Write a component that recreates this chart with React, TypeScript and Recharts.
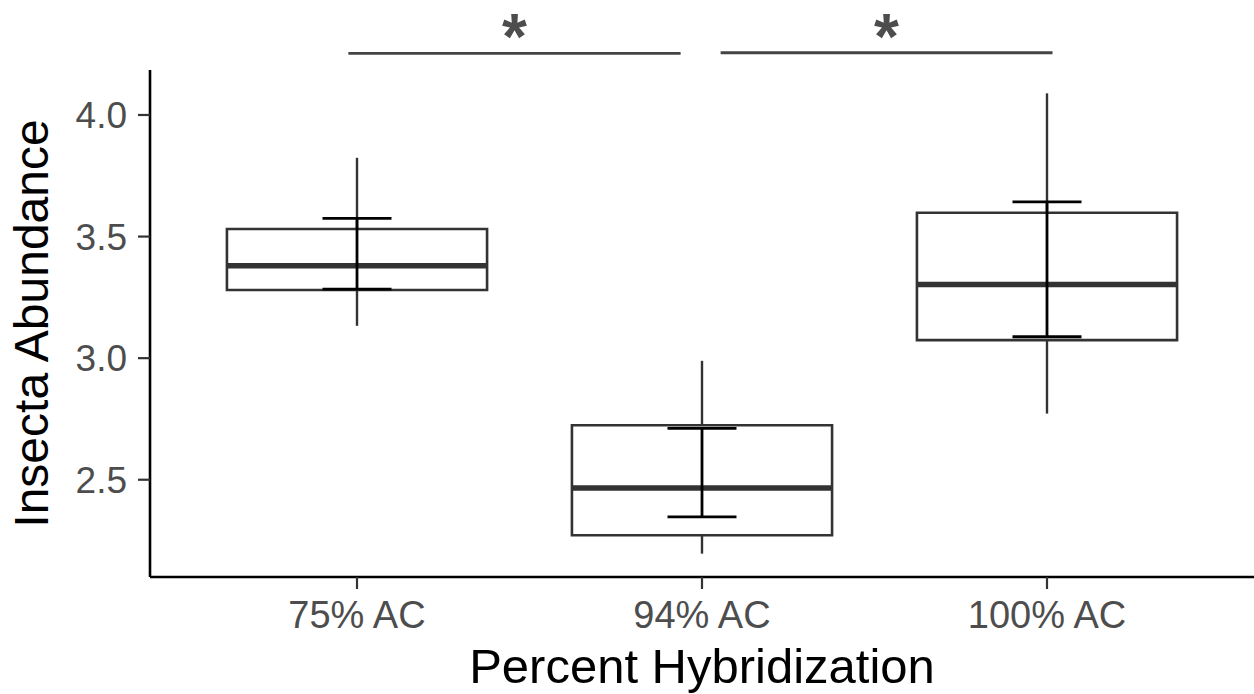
import React from 'react';
import {
  ComposedChart,
  XAxis,
  YAxis,
  Scatter,
  ReferenceArea,
  ReferenceLine,
  ReferenceDot,
} from 'recharts';

// group labels and their positions on the discrete axis
const categories = ['75% AC', '94% AC', '100% AC'];
const positions = [1, 2, 3];

// box plot summaries
const boxLower = [3.28, 2.272, 3.074];
const boxUpper = [3.531, 2.724, 3.598];
const medians = [3.38, 2.466, 3.303];
const whiskerMin = [3.133, 2.196, 2.772];
const whiskerMax = [3.824, 2.989, 4.089];

// mean +/- error bars
const errLower = [3.284, 2.347, 3.088];
const errUpper = [3.575, 2.711, 3.643];

// significance brackets
const sigStart = [0.975, 2.054];
const sigEnd = [1.938, 3.016];
const sigY = [4.253, 4.256];
const sigLabelY = [4.325, 4.325];
const sigLabels = ['*', '*'];

const yTicks = [2.5, 3.0, 3.5, 4.0];

const FONT = '"Liberation Sans", Arial, Helvetica, sans-serif';
const BOX_HALF = 0.377;
const CAP_HALF = 0.1;

const rows = positions.map((p, i) => ({ pos: p, median: medians[i] }));

const YTitle = (props: any) => {
  const vb = props.viewBox || { x: 0, y: 70, width: 150, height: 507 };
  const x = vb.x + 48;
  const y = vb.y + vb.height / 2;
  return (
    <text
      x={x}
      y={y}
      transform={`rotate(-90 ${x} ${y})`}
      textAnchor="middle"
      fontSize={48}
      fontFamily={FONT}
      fill="#000"
    >
      Insecta Abundance
    </text>
  );
};

const App: React.FC = () => {
  return (
    <div style={{ width: 1254, height: 694, background: '#fff' }}>
      <style>{'body{margin:0;}'}</style>
      <ComposedChart
        width={1254}
        height={694}
        data={rows}
        margin={{ top: 70, right: 0, bottom: 0, left: 0 }}
        style={{ fontFamily: FONT }}
      >
        <XAxis
          dataKey="pos"
          type="number"
          domain={[0.4, 3.6]}
          ticks={positions}
          allowDataOverflow
          tickFormatter={(v: number) => categories[v - 1]}
          height={117}
          tickSize={12}
          tickMargin={12}
          tick={{ fill: '#4d4d4d', fontSize: 38, fontFamily: FONT }}
          tickLine={{ stroke: '#333', strokeWidth: 2.2 }}
          axisLine={{ stroke: '#000', strokeWidth: 2.6 }}
          label={{
            value: 'Percent Hybridization',
            position: 'insideBottom',
            offset: 11,
            fontSize: 49,
            fill: '#000',
            fontFamily: FONT,
          }}
        />
        <YAxis
          type="number"
          domain={[2.1, 4.185]}
          ticks={yTicks}
          allowDataOverflow
          width={150}
          tickFormatter={(v: number) => v.toFixed(1)}
          tickSize={12}
          tickMargin={11}
          tick={{ fill: '#4d4d4d', fontSize: 37, fontFamily: FONT }}
          tickLine={{ stroke: '#333', strokeWidth: 2.2 }}
          axisLine={{ stroke: '#000', strokeWidth: 2.6 }}
          label={{ content: YTitle }}
        />

        {positions.map((p, i) => (
          <ReferenceArea
            key={`box-${i}`}
            x1={p - BOX_HALF}
            x2={p + BOX_HALF}
            y1={boxLower[i]}
            y2={boxUpper[i]}
            fill="#fff"
            fillOpacity={1}
            stroke="#333"
            strokeWidth={2.6}
          />
        ))}
        {positions.map((p, i) => (
          <ReferenceLine
            key={`wtop-${i}`}
            segment={[{ x: p, y: boxUpper[i] }, { x: p, y: whiskerMax[i] }]}
            stroke="#333"
            strokeWidth={2.4}
          />
        ))}
        {positions.map((p, i) => (
          <ReferenceLine
            key={`wbot-${i}`}
            segment={[{ x: p, y: whiskerMin[i] }, { x: p, y: boxLower[i] }]}
            stroke="#333"
            strokeWidth={2.4}
          />
        ))}
        {positions.map((p, i) => (
          <ReferenceLine
            key={`med-${i}`}
            segment={[{ x: p - BOX_HALF, y: medians[i] }, { x: p + BOX_HALF, y: medians[i] }]}
            stroke="#333"
            strokeWidth={5.5}
          />
        ))}
        {positions.map((p, i) => (
          <ReferenceLine
            key={`err-${i}`}
            segment={[{ x: p, y: errLower[i] }, { x: p, y: errUpper[i] }]}
            stroke="#000"
            strokeWidth={2.8}
          />
        ))}
        {positions.map((p, i) => (
          <ReferenceLine
            key={`capu-${i}`}
            segment={[{ x: p - CAP_HALF, y: errUpper[i] }, { x: p + CAP_HALF, y: errUpper[i] }]}
            stroke="#000"
            strokeWidth={2.8}
          />
        ))}
        {positions.map((p, i) => (
          <ReferenceLine
            key={`capl-${i}`}
            segment={[{ x: p - CAP_HALF, y: errLower[i] }, { x: p + CAP_HALF, y: errLower[i] }]}
            stroke="#000"
            strokeWidth={2.8}
          />
        ))}

        {sigStart.map((s, i) => (
          <ReferenceLine
            key={`sig-${i}`}
            segment={[{ x: s, y: sigY[i] }, { x: sigEnd[i], y: sigY[i] }]}
            stroke="#444"
            strokeWidth={2.8}
            ifOverflow="visible"
          />
        ))}
        {sigStart.map((s, i) => (
          <ReferenceDot
            key={`star-${i}`}
            x={(s + sigEnd[i]) / 2}
            y={sigLabelY[i]}
            r={0}
            fill="none"
            stroke="none"
            ifOverflow="visible"
            label={{
              value: sigLabels[i],
              position: 'center',
              fontSize: 64,
              fontWeight: 'bold',
              fill: '#4d4d4d',
              fontFamily: FONT,
            }}
          />
        ))}

        <Scatter dataKey="median" isAnimationActive={false} shape={() => <g />} />
      </ComposedChart>
    </div>
  );
};

export default App;
